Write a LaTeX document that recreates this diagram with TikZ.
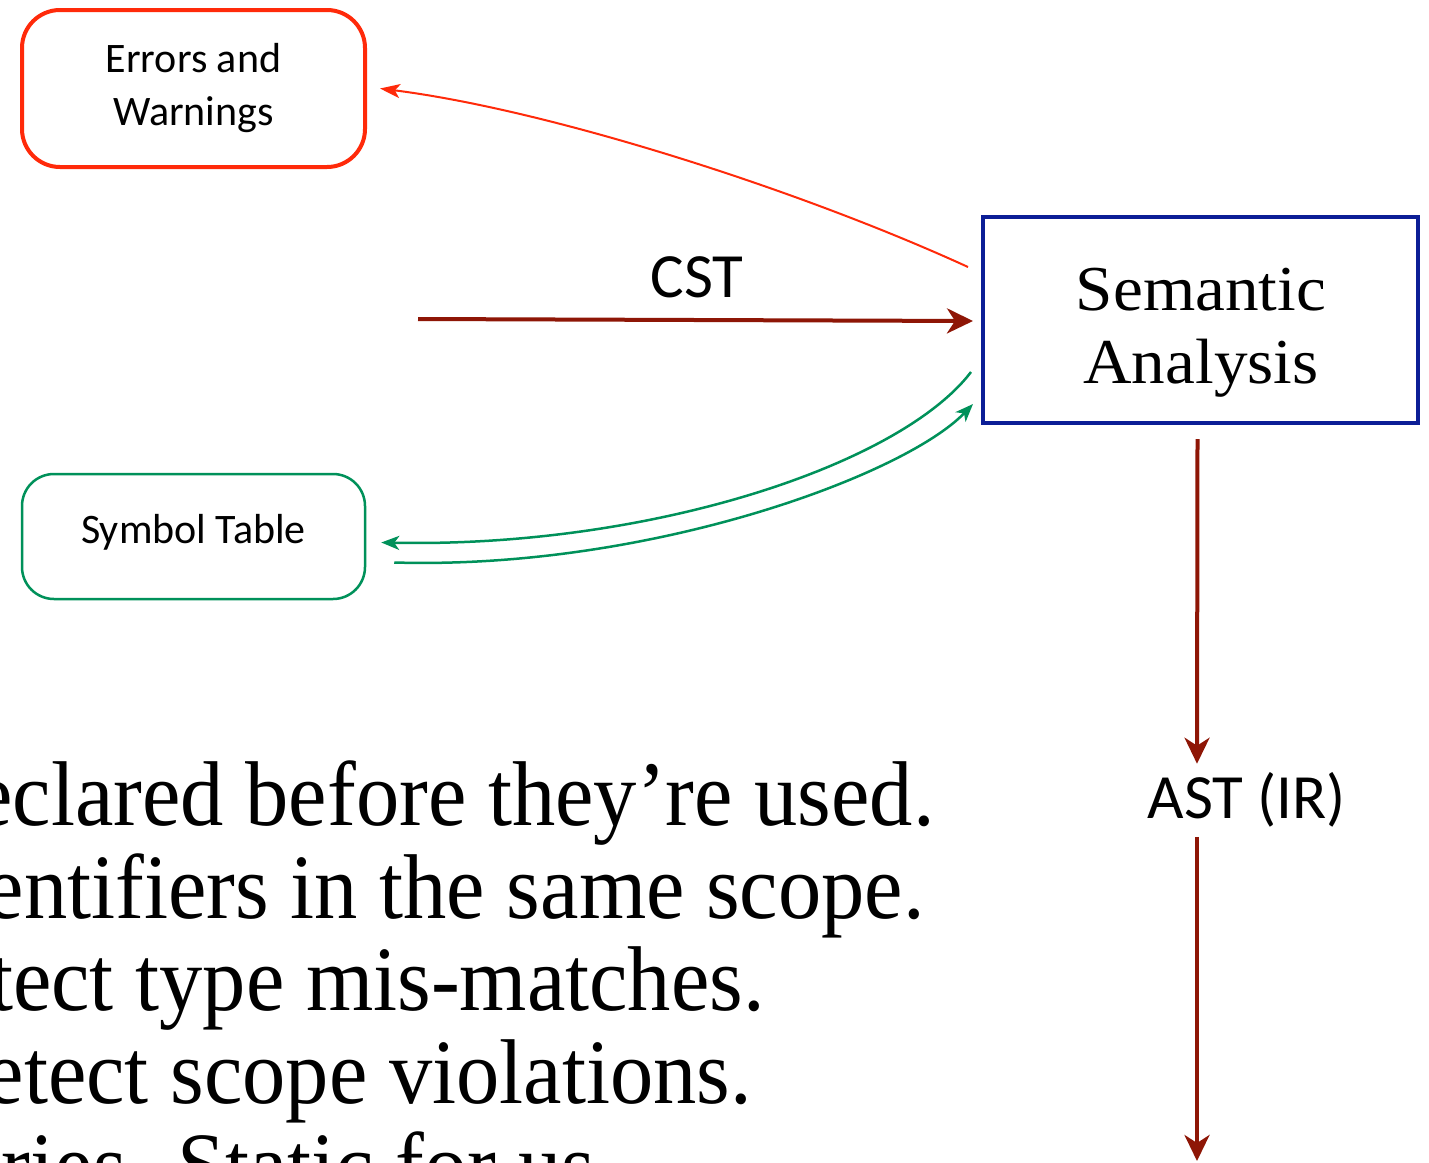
\documentclass[tikz,border=0pt]{standalone}
\usepackage{fontspec}
\setmainfont{Carlito}
\newfontfamily\cambriafont[FakeStretch=1.05]{Liberation Serif}
\newfontfamily\bodyfont[FakeStretch=0.94]{Liberation Serif}
\usetikzlibrary{arrows.meta,calc}
\definecolor{errred}{HTML}{FF2A0A}
\definecolor{darkred}{HTML}{8E1606}
\definecolor{symgreen}{HTML}{00915A}
\definecolor{semblue}{HTML}{0C1E96}
\tikzset{
  errbox/.style={draw=errred,line width=4pt,rounded corners=38pt,minimum width=343pt,minimum height=157pt,align=center,font=\fontsize{42}{53}\selectfont},
  symbox/.style={draw=symgreen,line width=2.5pt,rounded corners=32pt,minimum width=343pt,minimum height=125pt},
  symtext/.style={font=\fontsize{42}{48}\selectfont,inner sep=0pt,anchor=base},
  sembox/.style={draw=semblue,line width=4pt,minimum width=435pt,minimum height=206pt},
  semtext/.style={align=center,font=\cambriafont\fontsize{64}{73}\selectfont,inner sep=0pt,anchor=base},
  mainflow/.style={draw=darkred,line width=4pt,-{Stealth[length=26pt,width=25pt,inset=8pt]}},
  errflow/.style={draw=errred,line width=2pt,-{Stealth[length=20pt,width=14pt,inset=5pt]}},
  symflow/.style={draw=symgreen,line width=2.5pt,-{Stealth[length=18pt,width=14pt,inset=5pt]}},
  lbl/.style={font=\fontsize{63}{70}\selectfont,inner sep=0pt},
  bodytext/.style={font=\bodyfont\fontsize{92}{93}\selectfont,inner sep=0pt,anchor=base east},
}
\begin{document}
\begin{tikzpicture}[x=1pt,y=-1pt]
\clip (0,0) rectangle (1429,1162);
\useasboundingbox (0,0) rectangle (1429,1162);
\fill[white] (0,0) rectangle (1429,1162);

\node[errbox] (err) at (193.5,88.5) {Errors and\\Warnings};
\node[symbox] (sym) at (193.5,536.5) {};
\node[symtext] (symlbl) at (193.5,543) {Symbol Table};
\node[sembox] (sem) at (1200.5,320) {};
\node[semtext] (semlbl) at (1201,383) {Semantic\\Analysis};

\coordinate (cststart) at (418,319);
\draw[mainflow] (cststart) -- ($(sem.west)+(-8,1)$);
\node[lbl,anchor=base] (cst) at (697,297) {CST};

\draw[errflow] ($(sem.west)+(-13,-53)$) .. controls (800,190) and (550,110) .. ($(err.east)+(13,0)$);

\draw[symflow] ($(sem.west)+(-10,52)$) .. controls (900,465) and (650,548) .. ($(sym.east)+(15,6)$);
\draw[symflow] ($(sym.east)+(28,26)$) .. controls (650,570) and (905,475) .. ($(sem.west)+(-8,84)$);

\node[lbl,anchor=base] (ast) at (1247,818) {AST (IR)};
\draw[mainflow] ($(sem.south)+(-3,14)$) -- ($(ast.north)+(-50,-8)$);
\coordinate (bottomend) at (1197,1161);
\draw[mainflow] ($(ast.south)+(-50,10)$) -- (bottomend);

\node[bodytext] (l1) at (935,825) {declared before they’re used.};
\node[bodytext] (l2) at (925,918) {identifiers in the same scope.};
\node[bodytext] (l3) at (765,1010) {Detect type mis-matches.};
\node[bodytext] (l4) at (752,1103) {Detect scope violations.};
\node[bodytext] (l5) at (617,1196) {boundaries. Static for us.};
\end{tikzpicture}
\end{document}
